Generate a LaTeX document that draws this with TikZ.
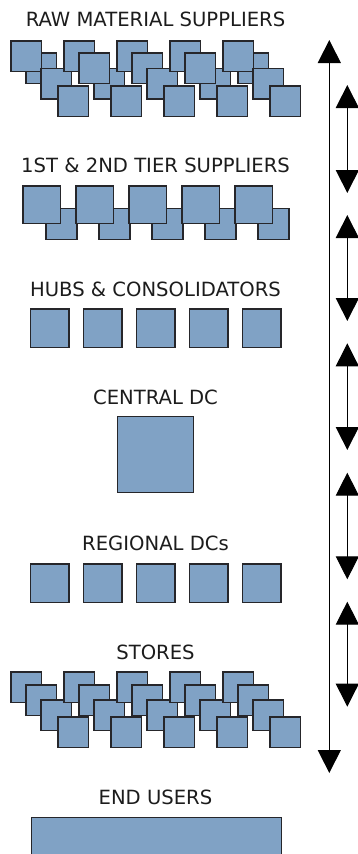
\documentclass[tikz,border=0pt]{standalone}
\usepackage{fontspec}
\setmainfont{DejaVu Sans}
\usetikzlibrary{arrows.meta}
\definecolor{boxfill}{RGB}{128,162,197}
\definecolor{boxline}{RGB}{38,38,42}
\definecolor{txt}{RGB}{28,28,28}
\begin{document}
\begin{tikzpicture}[x=1pt,y=-1pt,
  sq/.style={draw=boxline,fill=boxfill,line width=1.1pt,inner sep=0pt,outer sep=0pt,anchor=north west,minimum width=#1,minimum height=#1},
  lbl/.style={font=\fontsize{19.6}{22}\selectfont,text=txt,anchor=base,inner sep=0pt},
  dbl/.style={line width=1pt,{Triangle[length=23pt,width=23pt]}-{Triangle[length=23pt,width=23pt]}}]
\useasboundingbox (0,0) rectangle (358,854);
% labels
\node[lbl] (t1) at (155.5,26.7) {RAW MATERIAL SUPPLIERS};
\node[lbl] (t2) at (155.5,172.7) {1ST \& 2ND TIER SUPPLIERS};
\node[lbl] (t3) at (155.5,296) {HUBS \& CONSOLIDATORS};
\node[lbl] (t4) at (155.5,404) {CENTRAL DC};
\node[lbl] (t5) at (155.5,550) {REGIONAL DCs};
\node[lbl] (t6) at (155.5,659.3) {STORES};
\node[lbl] (t7) at (155.5,804.3) {END USERS};
% raw material suppliers
\foreach \c/\order in {0/{2,1,3,4},1/{1,3,2,4},2/{1,2,3,4},3/{1,3,2,4},4/{2,1,3,4}}{
  \foreach \r in \order {
    \ifcase\r\or
      \node[sq=30.5pt] (raw\c-\r) at (11+53*\c,41) {};
    \or
      \node[sq=30.5pt] (raw\c-\r) at (26+53*\c,53) {};
    \or
      \node[sq=30.5pt] (raw\c-\r) at (41+53*\c,68.5) {};
    \or
      \node[sq=30.5pt] (raw\c-\r) at (58+53*\c,86) {};
    \fi
  }
}
% tier suppliers
\foreach \c in {0,...,4}{
  \node[sq=31pt] (tb\c) at (46+53*\c,208.3) {};
}
\foreach \c in {0,...,4}{
  \node[sq=37.5pt] (ta\c) at (23+53*\c,186) {};
}
% hubs
\foreach \c in {0,...,4}{
  \node[sq=38.3pt] (hub\c) at (30.7+53*\c,309) {};
}
% central DC
\node[sq=76.3pt] (cdc) at (117.3,416.5) {};
% regional DCs
\foreach \c in {0,...,4}{
  \node[sq=38.3pt] (rdc\c) at (30.7+53*\c,564) {};
}
% stores
\foreach \c in {0,...,4}{
  \node[sq=30.5pt] (st\c-1) at (11+53*\c,672) {};
  \node[sq=30.5pt] (st\c-2) at (26+53*\c,685) {};
  \node[sq=30.5pt] (st\c-3) at (41+53*\c,700) {};
  \node[sq=30.5pt] (st\c-4) at (58+53*\c,717) {};
}
% end users
\node[draw=boxline,fill=boxfill,line width=1.1pt,inner sep=0pt,anchor=north west,minimum width=250pt,minimum height=60pt] (eu) at (31,816.7) {};
% arrows
\coordinate (La) at (329.3,40);
\coordinate (Lb) at (329.3,773);
\draw[dbl] (La) -- (Lb);
\foreach \i/\a/\b in {1/85/193,2/215/321,3/343.3/450,4/472.7/579.3,5/601.7/706.7}{
  \coordinate (s\i a) at (347.3,\a);
  \coordinate (s\i b) at (347.3,\b);
  \draw[dbl] (s\i a) -- (s\i b);
}
\end{tikzpicture}
\end{document}
